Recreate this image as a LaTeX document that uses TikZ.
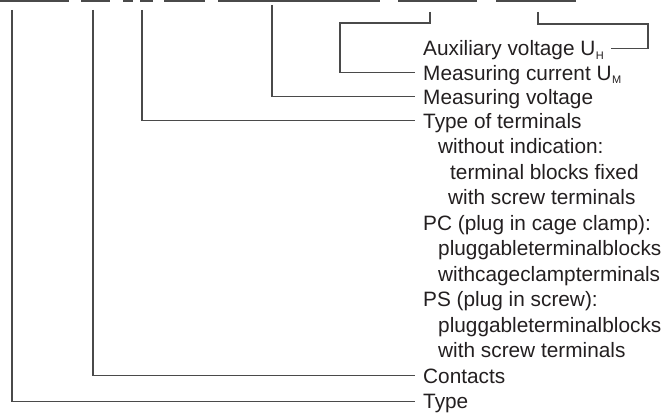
\documentclass[tikz,border=0pt]{standalone}
\usepackage{fontspec}
\setmainfont{Liberation Sans}
\usepackage{tikz}
\usetikzlibrary{positioning}
\definecolor{lblink}{HTML}{231F20}
\definecolor{lnline}{HTML}{4A4A4A}
\newcommand{\subU}[1]{U\kern0.5pt\raisebox{-3.5pt}{\fontsize{11}{11}\selectfont #1}}

\begin{document}
\begin{tikzpicture}[
      x=1pt, y=-1pt,
      font=\fontsize{20.8}{24}\selectfont,
      lbl/.style={anchor=west, inner xsep=8pt, inner ysep=0pt, text height=15pt,
                  text depth=0pt, text=lblink},
      sub/.style={anchor=west, inner sep=0pt, text height=15pt, text depth=0pt,
                  text=lblink},
      ln/.style={lnline, line width=1.3pt},
      bar/.style={lnline, line width=1.8pt},
    ]
    \useasboundingbox (0,0) rectangle (671,412);

    \foreach \a/\b in {0/69, 81/110, 123/133, 140/153, 164/205, 218/380, 398/477, 496/576}
      \draw[bar] (\a,0.8) -- (\b,0.8);

    \coordinate (tType)  at (12,10);
    \coordinate (tCont)  at (93,10);
    \coordinate (tTerm)  at (142,10);
    \coordinate (tMvolt) at (272,5);
    \coordinate (tMcur)  at (430,12);
    \coordinate (tAux)   at (538,12);

    \node[lbl] (aux)   at (415,48.5)  {Auxiliary voltage \subU{H}};
    \node[lbl] (mcur)  at (415,72.7)  {Measuring current \subU{M}};
    \node[lbl] (mvolt) at (415,96.7)  {Measuring voltage};
    \node[lbl] (term)  at (415,120.7) {Type of terminals};
    \node[sub] (noind)    at (438,146.2) {without indication:};
    \node[sub] (fixed)    at (450,171.7) {terminal blocks fixed};
    \node[sub] (fixscrew) at (448,197.2) {with screw terminals};
    \node[sub] (pc)       at (423,222.7) {PC (plug in cage clamp):};
    \node[sub] (pcplug)   at (438,248.2) {pluggableterminalblocks};
    \node[sub] (pccage)   at (438,273.7) {withcageclampterminals};
    \node[sub] (ps)       at (423,299.2) {PS (plug in screw):};
    \node[sub] (psplug)   at (438,324.7) {pluggableterminalblocks};
    \node[sub] (psscrew)  at (438,350.2) {with screw terminals};
    \node[lbl] (cont)  at (415,375.7) {Contacts};
    \node[lbl] (type)  at (415,401.2) {Type};

    \draw[ln] (tType) |- (type.west);
    \draw[ln] (tCont) |- (cont.west);
    \draw[ln] (tTerm) |- (term.west);
    \draw[ln] (tMvolt) |- (mvolt.west);
    \draw[ln] (tMcur) |- ++(-90,11) |- (mcur.west);
    \draw[ln] (tAux) |- ++(110,12) |- ([xshift=-1pt]aux.east);
  \end{tikzpicture}
\end{document}
